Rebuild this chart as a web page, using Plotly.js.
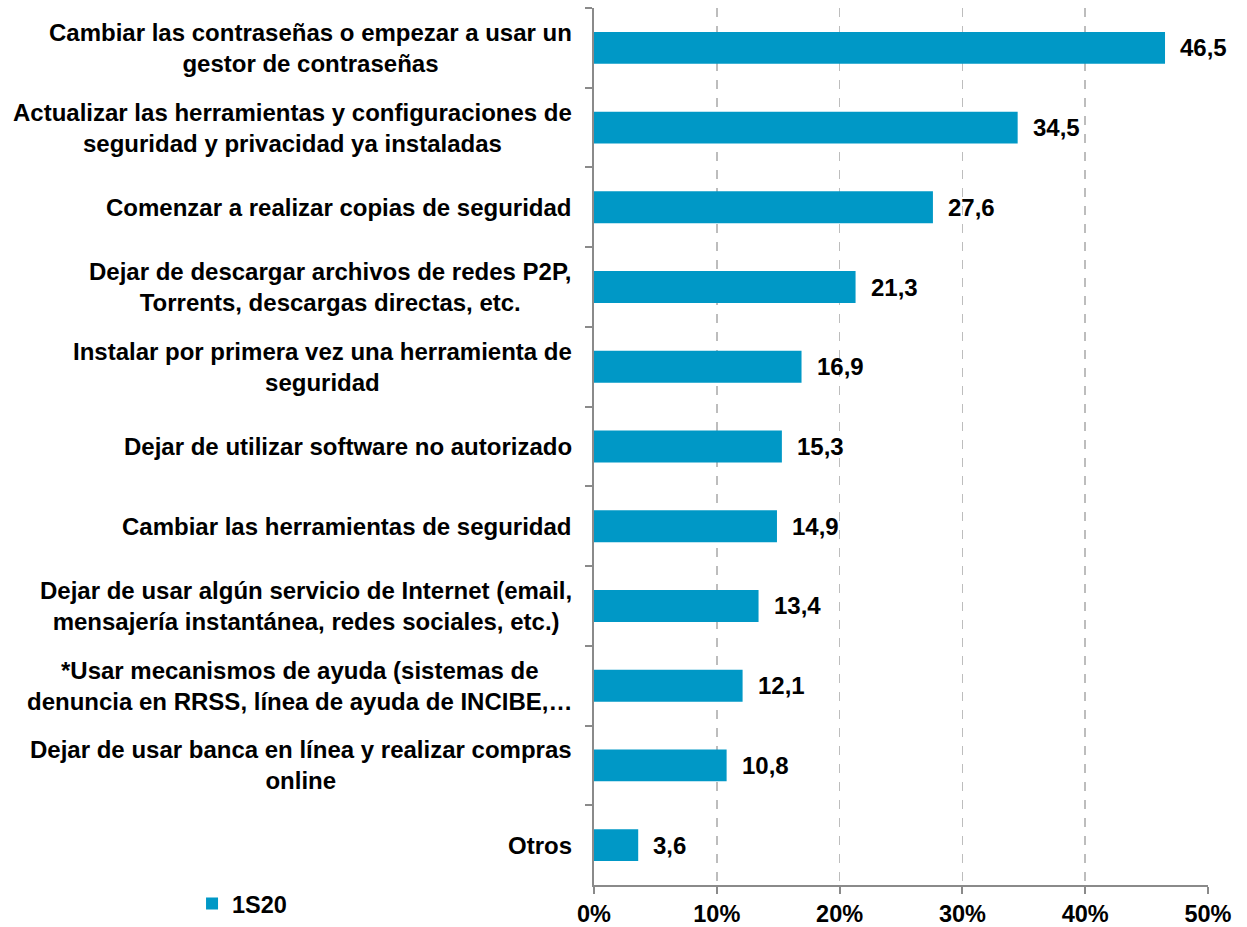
<!DOCTYPE html>
<html>
<head>
<meta charset="utf-8">
<script src="https://cdn.plot.ly/plotly-3.0.1.min.js"></script>
<style>html,body{margin:0;padding:0;background:#fff;} #chart{width:1247px;height:927px;}</style>
</head>
<body>
<div id="chart"></div>
<script>
const categories = [
  "Cambiar las contraseñas o empezar a usar un<br>gestor de contraseñas",
  "Actualizar las herramientas y configuraciones de<br>seguridad y privacidad ya instaladas",
  "Comenzar a realizar copias de seguridad",
  "Dejar de descargar archivos de redes P2P,<br>Torrents, descargas directas, etc.",
  "Instalar por primera vez una herramienta de<br>seguridad",
  "Dejar de utilizar software no autorizado",
  "Cambiar las herramientas de seguridad",
  "Dejar de usar algún servicio de Internet (email,<br>mensajería instantánea, redes sociales, etc.)",
  "*Usar mecanismos de ayuda (sistemas de<br>denuncia en RRSS, línea de ayuda de INCIBE,…",
  "Dejar de usar banca en línea y realizar compras<br>online",
  "Otros"
];
const values1S20 = [46.5, 34.5, 27.6, 21.3, 16.9, 15.3, 14.9, 13.4, 12.1, 10.8, 3.6];
const seriesName = "1S20";
const xTickValues = [0, 10, 20, 30, 40, 50];
const xTickLabels = ["0%", "10%", "20%", "30%", "40%", "50%"];

const FONT = "Liberation Sans, Arial, sans-serif";
const FS = 23.5;
const FS_LABEL = 24;
const barColor = "#0098c6";

const fmt = v => v.toFixed(1).replace(".", ",");

const trace = {
  type: "bar",
  orientation: "h",
  name: seriesName,
  x: values1S20,
  y: categories,
  width: 0.4,
  marker: {color: barColor},
  hoverinfo: "x+y",
  cliponaxis: false
};

const annotations = [];
categories.forEach((c, i) => {
  annotations.push({
    xref: "paper", yref: "y", x: 0, y: c,
    xanchor: "right", yanchor: "middle", xshift: -20,
    text: "<b>" + c + "</b>", showarrow: false, align: "center",
    font: {family: FONT, size: FS_LABEL, color: "#000"}
  });
  annotations.push({
    xref: "x", yref: "y", x: values1S20[i], y: c,
    xanchor: "left", yanchor: "middle", xshift: 13,
    text: "<b>" + fmt(values1S20[i]) + "</b>", showarrow: false,
    font: {family: FONT, size: FS_LABEL, color: "#000"}
  });
});

const layout = {
  width: 1247, height: 927,
  margin: {l: 594, r: 39, t: 8, b: 42, autoexpand: false},
  paper_bgcolor: "#fff", plot_bgcolor: "#fff",
  font: {family: FONT, size: FS, color: "#000"},
  showlegend: true,
  legend: {
    xref: "container", yref: "container",
    x: 0.154, y: 0.025, xanchor: "left", yanchor: "middle",
    font: {family: FONT, size: FS, color: "#000", weight: "bold"},
    itemwidth: 30, bgcolor: "rgba(0,0,0,0)"
  },
  xaxis: {
    range: [0, 50],
    tickvals: xTickValues, ticktext: xTickLabels,
    showgrid: true, gridcolor: "#bdbdbd", griddash: "dash", gridwidth: 1.5,
    zeroline: false,
    showline: true, linecolor: "#8a8a8a", linewidth: 2,
    ticks: "outside", ticklen: 7, tickwidth: 2, tickcolor: "#8a8a8a",
    tickfont: {family: FONT, size: FS, color: "#000", weight: "bold"},
    fixedrange: true
  },
  yaxis: {
    type: "category",
    autorange: "reversed",
    showticklabels: false,
    showgrid: false, zeroline: false,
    showline: true, linecolor: "#8a8a8a", linewidth: 2,
    ticks: "outside", tickson: "boundaries", ticklen: 7, tickwidth: 2, tickcolor: "#8a8a8a",
    fixedrange: true
  },
  annotations: annotations,
  bargap: 0.6
};

Plotly.newPlot("chart", [trace], layout, {displayModeBar: false, staticPlot: true});
</script>
</body>
</html>
